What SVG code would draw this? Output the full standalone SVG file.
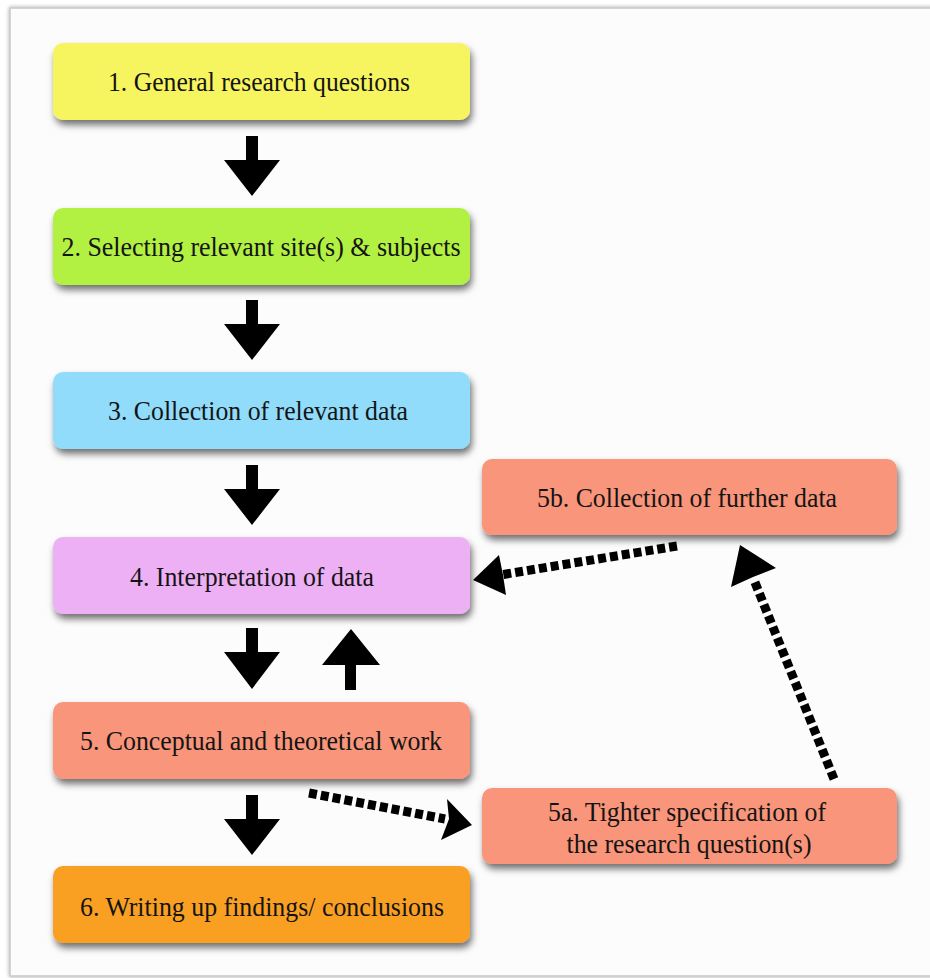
<svg xmlns="http://www.w3.org/2000/svg" width="930" height="978" viewBox="0 0 930 978">
  <defs>
    <filter id="boxShadow" x="-10%" y="-30%" width="125%" height="170%">
      <feDropShadow dx="2" dy="5" stdDeviation="3.5" flood-color="#000" flood-opacity="0.55"/>
    </filter>
    <filter id="frameShadow" x="-5%" y="-5%" width="110%" height="110%">
      <feDropShadow dx="0" dy="0" stdDeviation="2" flood-color="#000" flood-opacity="0.35"/>
    </filter>
  </defs>
  <style>
    .box { filter: url(#boxShadow); }
    .label { font-family: "Liberation Serif", serif; font-size: 27px; fill: #141414; text-anchor: middle; }
    .block { fill: #000; }
    .dash { fill: none; stroke: #000; stroke-width: 9; stroke-dasharray: 8 4; }
  </style>

  <!-- page and frame -->
  <rect x="0" y="0" width="930" height="978" fill="#ffffff"/>
  <rect x="10" y="8" width="930" height="968" fill="#fcfcfc" stroke="#c8c8c8" stroke-width="1.5" filter="url(#frameShadow)"/>

  <!-- main column -->
  <g id="node1">
    <rect class="box" x="53" y="43" width="417" height="77" rx="10" fill="#f7f55e"/>
    <text class="label" x="259" y="91" textLength="302" lengthAdjust="spacingAndGlyphs">1. General research questions</text>
  </g>
  <g id="node2">
    <rect class="box" x="53" y="208" width="417" height="77" rx="10" fill="#b2f042"/>
    <text class="label" x="261" y="256" textLength="399" lengthAdjust="spacingAndGlyphs">2. Selecting relevant site(s) &amp; subjects</text>
  </g>
  <g id="node3">
    <rect class="box" x="53" y="372" width="417" height="77" rx="10" fill="#90dcfa"/>
    <text class="label" x="258" y="420" textLength="300" lengthAdjust="spacingAndGlyphs">3. Collection of relevant data</text>
  </g>
  <g id="node4">
    <rect class="box" x="53" y="537" width="417" height="77" rx="10" fill="#eeb0f5"/>
    <text class="label" x="252" y="586" textLength="244" lengthAdjust="spacingAndGlyphs">4. Interpretation of data</text>
  </g>
  <g id="node5">
    <rect class="box" x="53" y="702" width="417" height="77" rx="10" fill="#f9957a"/>
    <text class="label" x="261" y="750" textLength="362" lengthAdjust="spacingAndGlyphs">5. Conceptual and theoretical work</text>
  </g>
  <g id="node6">
    <rect class="box" x="53" y="866" width="417" height="77" rx="10" fill="#f9a024"/>
    <text class="label" x="262" y="916" textLength="364" lengthAdjust="spacingAndGlyphs">6. Writing up findings/ conclusions</text>
  </g>

  <!-- side branch -->
  <g id="node5b">
    <rect class="box" x="482" y="459" width="415" height="76" rx="10" fill="#f9957a"/>
    <text class="label" x="687" y="507" textLength="300" lengthAdjust="spacingAndGlyphs">5b. Collection of further data</text>
  </g>
  <g id="node5a">
    <rect class="box" x="482" y="788" width="415" height="76" rx="10" fill="#f9957a"/>
    <text class="label" x="687" y="821" textLength="278" lengthAdjust="spacingAndGlyphs">5a. Tighter specification of</text>
    <text class="label" x="689" y="853" textLength="245" lengthAdjust="spacingAndGlyphs">the research question(s)</text>
  </g>

  <!-- connectors -->
  <g id="connectors">
    <!-- solid block arrows down the main column -->
    <polygon class="block" points="246,136 258,136 258,160 280,160 252,196 224,160 246,160"/>
    <polygon class="block" points="246,300 258,300 258,324 280,324 252,360 224,324 246,324"/>
    <polygon class="block" points="246,465 258,465 258,489 280,489 252,525 224,489 246,489"/>
    <polygon class="block" points="246,628 258,628 258,652 280,652 252,689 224,652 246,652"/>
    <polygon class="block" points="246,795 258,795 258,819 280,819 252,855 224,819 246,819"/>
    <!-- feedback arrow 5 -> 4 -->
    <polygon class="block" points="351,629 380,665 356,665 356,690 345,690 345,665 322,665"/>

    <!-- dotted: 5 -> 5a -->
    <path class="dash" d="M309,793 L445,819"/>
    <polygon class="block" points="472,825 441,840 449,819 447,799"/>
    <!-- dotted: 5a -> 5b -->
    <path class="dash" d="M834,779 L754,580"/>
    <polygon class="block" points="740,545 776,568 753,577 731,587"/>
    <!-- dotted: 5b -> 4 -->
    <path class="dash" d="M677,546 L500,575"/>
    <polygon class="block" points="473,580 499,555 503,575 506,595"/>
  </g>
</svg>
